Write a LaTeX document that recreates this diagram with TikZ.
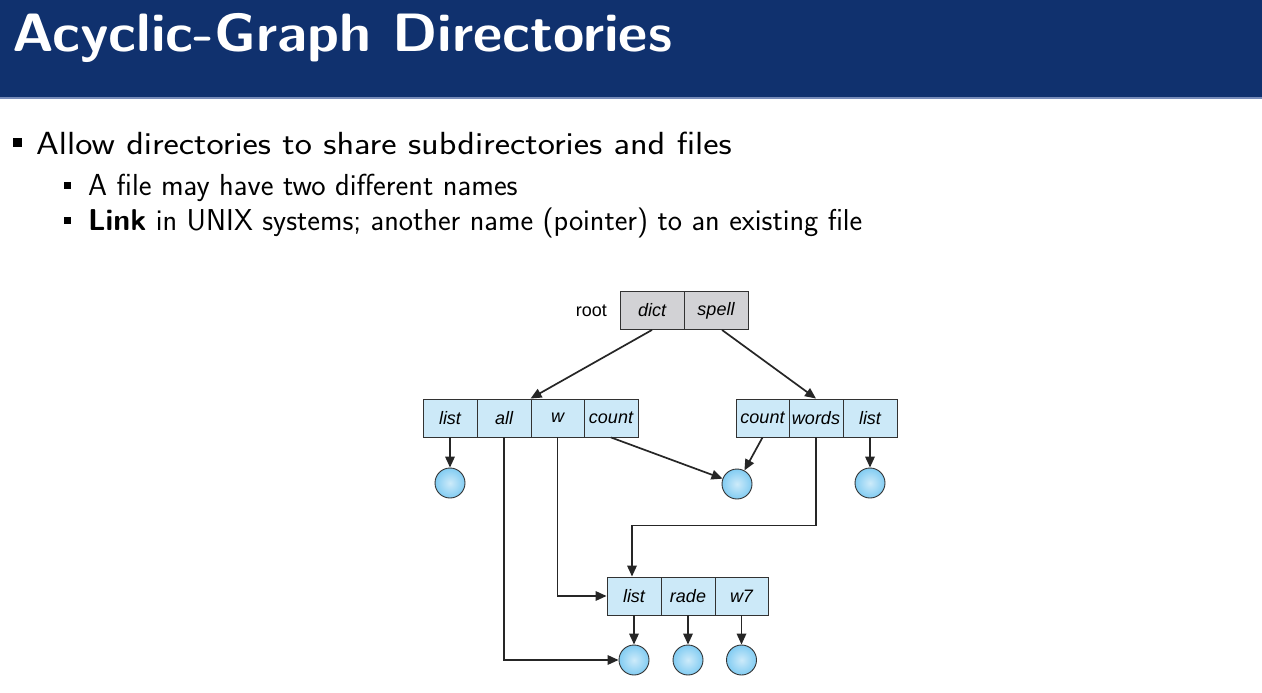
\documentclass[tikz,border=0pt]{standalone}
\usepackage{fontspec}
\usepackage{graphicx}
\newfontfamily\hv{Liberation Sans}
\usetikzlibrary{arrows.meta}
\definecolor{barblue}{RGB}{16,49,110}
\definecolor{barline}{RGB}{120,140,185}
\definecolor{cellblue}{RGB}{204,233,248}
\definecolor{rootgray}{RGB}{210,210,213}
\definecolor{ballblue}{RGB}{130,204,242}
\definecolor{edgegray}{RGB}{50,50,50}
\tikzset{
  cell/.style={draw=edgegray, line width=0.9pt, fill=cellblue, minimum height=38pt, inner sep=0pt, font=\hv\itshape\fontsize{18}{20}\selectfont},
  rcell/.style={cell, fill=rootgray},
  ball/.style={circle, draw=edgegray, line width=0.9pt, inner color=ballblue!40, outer color=ballblue, minimum size=30pt, inner sep=0pt},
  arr/.style={-{Triangle[length=11pt,width=9.5pt]}, line width=1.7pt, draw=black!85},
  bul/.style={fill=black, inner sep=0pt},
  txt/.style={anchor=base west, inner sep=0pt, font=\sffamily}
}
\begin{document}
\begin{tikzpicture}[x=1pt,y=-1pt]
\useasboundingbox (0,0) rectangle (1262,693);
\fill[white] (0,0) rectangle (1262,693);
% title bar
\fill[barblue] (0,0) rectangle (1262,97);
\fill[barline] (0,97) rectangle (1262,99);
\node[txt, text=white, font=\sffamily\bfseries\fontsize{54}{60}\selectfont] (title) at (12,52) {\scalebox{1.056}[1]{Acyclic-Graph Directories}};
% bullets
\node[bul, minimum size=9pt] (b1) at (17,142) {};
\node[txt, font=\sffamily\fontsize{32}{38}\selectfont] (t1) at (36,154) {\scalebox{1.14}[1]{Allow directories to share subdirectories and files}};
\node[bul, minimum size=7pt] (b2) at (67,185) {};
\node[txt, font=\sffamily\fontsize{30.4}{34}\selectfont] (t2) at (88,195) {A file may have two different names};
\node[bul, minimum size=7pt] (b3) at (67,220) {};
\node[txt, font=\sffamily\fontsize{30.2}{34}\selectfont] (t3) at (88,230) {\textbf{Link} in UNIX systems; another name (pointer) to an existing file};
% root
\node[rcell, minimum width=64pt] (dict) at (652,310.5) {dict};
\node[rcell, minimum width=64pt] (spell) at (716,310.5) {spell};
\node[anchor=east, inner sep=0pt, font=\hv\fontsize{18}{20}\selectfont] (root) at (607,311) {root};
% left directory
\node[cell, minimum width=54pt] (list) at (450,418) {list};
\node[cell, minimum width=54pt] (all) at (504,418) {all};
\node[cell, minimum width=53pt] (w) at (557.5,418) {w};
\node[cell, minimum width=54pt] (count) at (611,418) {count};
% right directory
\node[cell, minimum width=53pt] (count2) at (762.5,418) {count};
\node[cell, minimum width=54pt] (words) at (816,418) {words};
\node[cell, minimum width=54pt] (list2) at (870,418) {list};
% bottom directory
\node[cell, minimum width=54pt] (list3) at (634,596) {list};
\node[cell, minimum width=54pt] (rade) at (688,596) {rade};
\node[cell, minimum width=53pt] (w7) at (741.5,596) {w7};
% files
\node[ball] (f1) at (450,483) {};
\node[ball] (f2) at (737,484) {};
\node[ball] (f3) at (870,483) {};
\node[ball] (f4) at (634,660) {};
\node[ball] (f5) at (688,660) {};
\node[ball] (f6) at (741.5,660) {};
% connectors
\draw[arr] (dict.south) -- (w.north west);
\draw[arr] ([xshift=6pt]spell.south) -- (words.north);
\draw[arr] (list.south) -- (f1);
\draw[arr] (count.south) -- (f2);
\draw[arr] (count2.south) -- (f2);
\draw[arr] (list2.south) -- (f3);
\draw[arr] (all.south) |- (f4);
\draw[arr] (w.south) |- (list3.west);
\draw[arr] (words.south) -- ++(0,88) -| ([xshift=-2pt]list3.north);
\draw[arr] (list3.south) -- (f4);
\draw[arr] (rade.south) -- (f5);
\draw[arr] (w7.south) -- (f6);
\end{tikzpicture}
\end{document}
